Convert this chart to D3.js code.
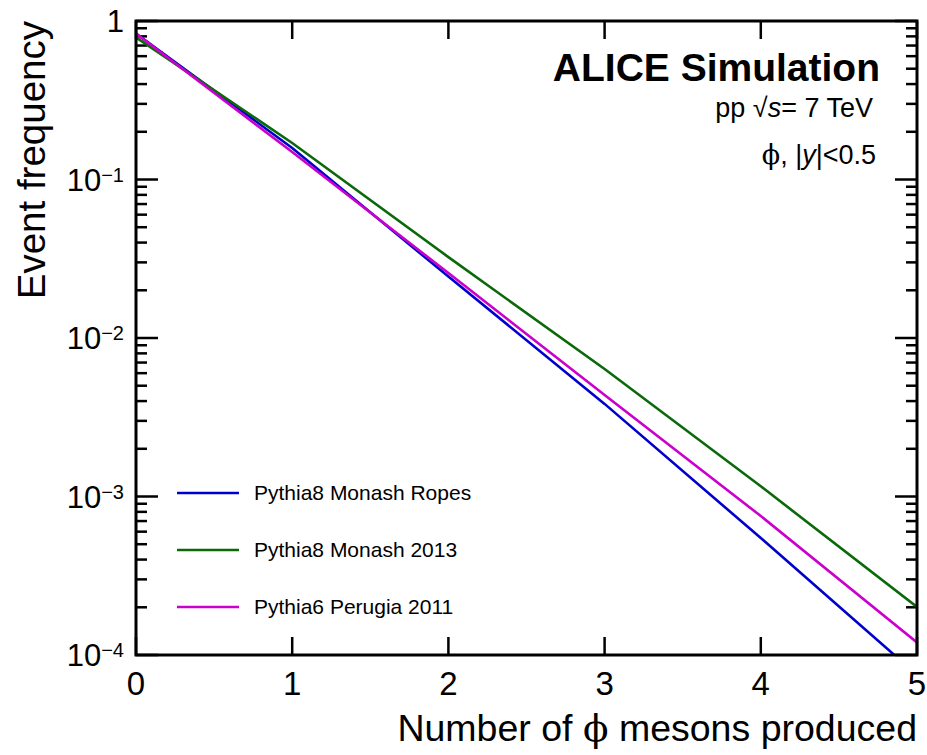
<!DOCTYPE html>
<html>
<head>
<meta charset="utf-8">
<script src="https://cdn.jsdelivr.net/npm/d3@7"></script>
<style>
  body { margin: 0; background: #fff; }
  svg text { font-family: "Liberation Sans", Arial, sans-serif; fill: #000; }
</style>
</head>
<body>
<div id="chart"></div>
<script>
// multiplicity values
const nPhi = [0, 1, 2, 3, 4, 5];
const ropes = [0.834, 0.158, 0.0244, 0.00384, 0.000547, 0.000075];
const monash = [0.789, 0.170, 0.0324, 0.00637, 0.00116, 0.000201];
const perugia = [0.834, 0.149, 0.0257, 0.00437, 0.000753, 0.000120];

const seriesNames = ['Pythia8 Monash Ropes', 'Pythia8 Monash 2013', 'Pythia6 Perugia 2011'];
const seriesColors = ['#0000cc', '#0a6a0a', '#cc00cc'];
const xTicks = [0, 1, 2, 3, 4, 5];
const yMajor = [1, 1e-1, 1e-2, 1e-3, 1e-4];
const yLabels = [['1', ''], ['10', '\u22121'], ['10', '\u22122'], ['10', '\u22123'], ['10', '\u22124']];

const config = {
  width: 927, height: 755,
  margin: {top: 21, right: 10, bottom: 100, left: 136}
};

const svg = d3.select('#chart').append('svg')
    .attr('width', config.width)
    .attr('height', config.height);

const innerW = config.width - config.margin.left - config.margin.right;
const innerH = config.height - config.margin.top - config.margin.bottom;

const chart = svg.append('g')
    .attr('transform', `translate(${config.margin.left},${config.margin.top})`);

const x = d3.scaleLinear().domain([0, 5]).range([0, innerW]);
const y = d3.scaleLog().domain([1e-4, 1]).range([innerH, 0]);

chart.append('clipPath').attr('id', 'plot-clip')
  .append('rect').attr('width', innerW).attr('height', innerH);

// minor y ticks: 2..9 in every decade
const yMinor = [];
[1e-4, 1e-3, 1e-2, 1e-1].forEach(d => {
  for (let k = 2; k <= 9; k++) yMinor.push(d * k);
});

const tickG = chart.append('g').attr('stroke', '#000').attr('stroke-width', 2.5);

// left & right y ticks
[[0, 1], [innerW, -1]].forEach(([x0, dir]) => {
  tickG.selectAll(null).data(yMajor).join('line')
      .attr('x1', x0).attr('x2', x0 + dir * 22)
      .attr('y1', d => y(d)).attr('y2', d => y(d));
  tickG.selectAll(null).data(yMinor).join('line')
      .attr('x1', x0).attr('x2', x0 + dir * 11)
      .attr('y1', d => y(d)).attr('y2', d => y(d));
});

// bottom & top x ticks
[[innerH, -1], [0, 1]].forEach(([y0, dir]) => {
  tickG.selectAll(null).data(xTicks).join('line')
      .attr('x1', d => x(d)).attr('x2', d => x(d))
      .attr('y1', y0).attr('y2', y0 + dir * 18);
});

// curves
const seriesData = [ropes, monash, perugia];
const line = d3.line()
    .x((d, i) => x(nPhi[i]))
    .y(d => y(d));

chart.append('g').attr('clip-path', 'url(#plot-clip)')
  .selectAll('path').data(seriesData).join('path')
    .attr('d', line)
    .attr('fill', 'none')
    .attr('stroke', (d, i) => seriesColors[i])
    .attr('stroke-width', 2.6);

// frame
chart.append('rect')
    .attr('width', innerW).attr('height', innerH)
    .attr('fill', 'none').attr('stroke', '#000').attr('stroke-width', 3);

// x tick labels
chart.selectAll('.x-label').data(xTicks).join('text')
    .attr('class', 'x-label')
    .attr('x', d => x(d))
    .attr('y', innerH + 40)
    .attr('text-anchor', 'middle')
    .style('font-size', '33px')
    .text(d => d);

// y tick labels with superscript exponent
const yl = chart.selectAll('.y-label').data(yMajor).join('text')
    .attr('class', 'y-label')
    .attr('x', -12)
    .attr('y', d => y(d) + 11)
    .attr('text-anchor', 'end')
    .style('font-size', '31px');
yl.append('tspan').text((d, i) => yLabels[i][0]);
yl.append('tspan')
    .attr('dy', -9)
    .style('font-size', '20px')
    .text((d, i) => yLabels[i][1]);

// axis titles
svg.append('text')
    .attr('transform', `translate(45,${config.margin.top}) rotate(-90)`)
    .attr('text-anchor', 'end')
    .style('font-size', '38.5px')
    .text('Event frequency');

const xt = svg.append('text')
    .attr('x', config.margin.left + innerW)
    .attr('y', 741)
    .attr('text-anchor', 'end')
    .style('font-size', '37.5px');
xt.append('tspan').text('Number of ');
xt.append('tspan').style('font-family', 'DejaVu Serif').text('\u03D5');
xt.append('tspan').text(' mesons produced');

// ALICE labels
svg.append('text')
    .attr('x', 880).attr('y', 81)
    .attr('text-anchor', 'end')
    .style('font-size', '39px').style('font-weight', 'bold')
    .text('ALICE Simulation');

const pp = svg.append('text')
    .attr('x', 873).attr('y', 117)
    .attr('text-anchor', 'end')
    .style('font-size', '27px');
pp.append('tspan').text('pp ');
pp.append('tspan').text('\u221A');
pp.append('tspan').style('font-style', 'italic').text('s');
pp.append('tspan').text('= 7 TeV');

const phiLabel = svg.append('text')
    .attr('x', 876).attr('y', 164)
    .attr('text-anchor', 'end')
    .style('font-size', '27px');
phiLabel.append('tspan').style('font-family', 'DejaVu Serif').text('\u03D5');
phiLabel.append('tspan').text(', |');
phiLabel.append('tspan').style('font-style', 'italic').text('y');
phiLabel.append('tspan').text('|<0.5');

// legend
const legend = svg.append('g').attr('transform', 'translate(177,493)');
const entries = legend.selectAll('g').data(seriesNames).join('g')
    .attr('transform', (d, i) => `translate(0,${i * 57})`);
entries.append('line')
    .attr('x1', 0).attr('x2', 62)
    .attr('stroke', (d, i) => seriesColors[i])
    .attr('stroke-width', 2.6);
entries.append('text')
    .attr('x', 77).attr('y', 7)
    .style('font-size', '21px')
    .text(d => d);
</script>
</body>
</html>
